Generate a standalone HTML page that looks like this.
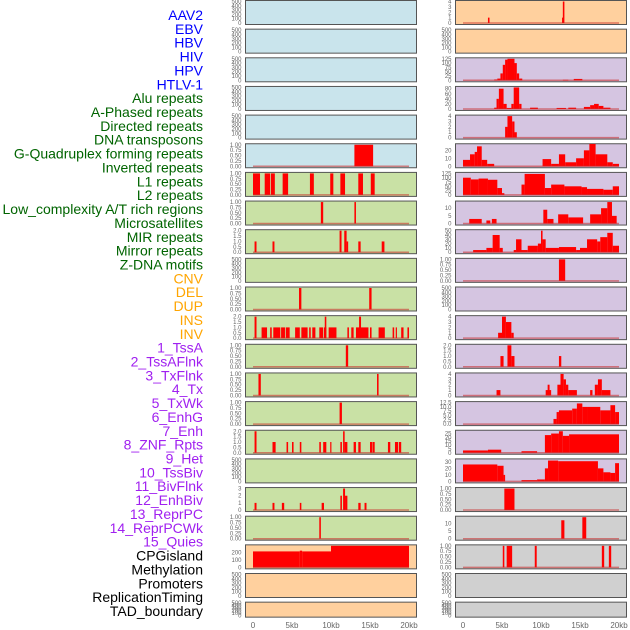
<!DOCTYPE html>
<html><head><meta charset="utf-8"><style>
html,body{margin:0;padding:0;background:#fff;width:630px;height:630px;overflow:hidden}
svg{display:block}
text{font-family:"Liberation Sans",sans-serif}
</style></head><body>
<svg id="fig" width="630" height="630" xmlns="http://www.w3.org/2000/svg"></svg>
<script>
const trackNames=["AAV2","EBV","HBV","HIV","HPV","HTLV-1","Alu repeats","A-Phased repeats","Directed repeats","DNA transposons","G-Quadruplex forming repeats","Inverted repeats","L1 repeats","L2 repeats","Low_complexity A/T rich regions","Microsatellites","MIR repeats","Mirror repeats","Z-DNA motifs","CNV","DEL","DUP","INS","INV","1_TssA","2_TssAFlnk","3_TxFlnk","4_Tx","5_TxWk","6_EnhG","7_Enh","8_ZNF_Rpts","9_Het","10_TssBiv","11_BivFlnk","12_EnhBiv","13_ReprPC","14_ReprPCWk","15_Quies","CPGisland","Methylation","Promoters","ReplicationTiming","TAD_boundary"];
const labelColors=["#0000ff","#006400","#ffa500","#a020f0","#000000"];
const labelGroupSizes=[6,13,5,15,5];
const xTicks=[0,5,10,15,20];
const xTickLabels=["0","5kb","10kb","15kb","20kb"];
const leftBg=["b","b","b","b","b","b","g","g","g","g","g","g","g","g","g","g","g","g","g","p","p","p"];
const rightBg=["p","p","v","v","v","v","v","v","v","v","v","v","v","v","v","v","v","r","r","r","r","r"];
const leftMax=[500,500,500,500,500,1,1,1,2,500,1,2,1,1,1,2,500,3,1,290,500,500];
const rightMax=[4,500,125,85,4,27,125,14,50,1,500,4,2,4,12.5,28,33,1,14,1,500,500];
const leftTicks=[[0,100,200,300,400,500],[0,100,200,300,400,500],[0,100,200,300,400,500],[0,100,200,300,400,500],[0,100,200,300,400,500],[0,.25,.5,.75,1],[0,.25,.5,.75,1],[0,.25,.5,.75,1],[0,.5,1,1.5,2],[0,100,200,300,400,500],[0,.25,.5,.75,1],[0,.5,1,1.5,2],[0,.25,.5,.75,1],[0,.25,.5,.75,1],[0,.25,.5,.75,1],[0,.5,1,1.5,2],[0,100,200,300,400,500],[0,1,2,3],[0,.25,.5,.75,1],[0,100,200],[0,100,200,300,400,500],[0,100,200,300,400,500]];
const rightTicks=[[0,1,2,3,4],[0,100,200,300,400,500],[0,25,50,75,100,125],[0,20,40,60,80],[0,1,2,3,4],[0,10,20],[0,25,50,75,100,125],[0,5,10],[0,10,20,30,40,50],[0,.25,.5,.75,1],[0,100,200,300,400,500],[0,1,2,3,4],[0,.5,1,1.5,2],[0,1,2,3,4],[0,2.5,5,7.5,10,12.5],[0,5,10,15,20,25],[0,10,20,30],[0,.25,.5,.75,1],[0,5,10],[0,.25,.5,.75,1],[0,100,200,300,400,500],[0,100,200,300,400,500]];
const leftBars=[[],[],[],[],[],
[[13,15.4,1]],
[[0,0.9,1],[1.5,2.2,1],[2.3,2.8,1],[3.8,4.5,1],[7.3,7.8,1],[9.9,10.3,1],[11.2,11.8,1],[13.5,14.1,1],[15.1,15.6,1]],
[[8.7,9.0,1],[13.0,13.2,1]],
[[0.2,0.45,1],[2.5,2.75,1],[11.1,11.35,2],[11.7,12.0,2],[12.0,12.2,1],[13.5,13.8,1],[16.5,16.85,1]],
[],
[[5.9,6.2,1],[14.9,15.2,1]],
[[0.2,0.45,2],[1.1,1.8,1],[2.2,2.4,1],[2.6,3.5,1],[3.6,4.1,1],[4.2,4.7,1],[5.4,6.0,1],[6.2,7.0,1],[7.2,7.4,1],[7.6,8.0,1],[8.5,9.0,1],[9.1,9.4,1],[9.2,9.4,2],[9.7,10.7,1],[12.1,12.3,1],[12.6,12.9,1],[13.2,14.8,1],[13.6,13.85,2],[15.0,15.2,1],[16.1,16.9,1],[17.9,18.1,1],[18.3,18.45,1],[19.0,19.3,1],[19.8,20.0,1]],
[[11.9,12.2,1]],
[[0.7,1.0,1],[15.9,16.1,1]],
[[11.1,11.4,1]],
[[0.2,0.45,2],[2.5,2.9,1],[4.3,4.5,1],[5.0,5.2,1],[6.0,6.2,1],[8.5,8.7,1],[9.0,9.4,1],[9.9,10.0,1],[11.2,11.4,1],[11.55,11.75,2],[11.75,12.1,1],[12.9,13.2,1],[13.5,13.8,1],[15.0,15.3,1],[15.35,15.6,1],[17.3,17.6,1],[18.2,18.6,1],[18.7,19.0,1]],
[],
[[0.2,0.45,1],[2.5,2.75,1],[3.7,4.0,1],[6.0,6.2,1],[8.8,9.1,1],[11.2,11.4,2],[11.55,11.8,3],[11.8,12.1,2],[13.5,13.8,1],[14.3,14.55,1]],
[[8.5,8.7,1]],
[[0,6.0,215],[6.0,6.3,225],[6.3,10.0,215],[10.0,20.0,290]],
[],[]];
const rightBars=[
[[3.2,3.4,1],[12.7,12.8,1],[12.8,13.0,4]],
[],
[[4.0,4.4,5],[4.4,4.8,10],[4.8,5.1,40],[5.1,5.4,90],[5.4,5.7,120],[5.7,6.6,125],[6.6,6.9,100],[6.9,7.2,40],[7.2,7.6,10],[12.8,13.5,3],[14.2,15.3,8]],
[[4.0,4.3,5],[4.3,4.6,40],[4.6,5.2,80],[5.2,5.6,20],[5.6,6.2,4],[6.2,6.5,20],[6.5,7.2,85],[7.2,7.5,20],[8.6,9.6,5],[12.0,13.2,4],[13.5,14.5,5],[15.5,16.3,8],[16.3,16.8,15],[16.8,17.4,20],[17.4,18.0,12],[18.0,18.9,5]],
[[5.4,5.7,2],[5.7,6.3,4],[6.3,6.6,3],[6.6,6.9,1]],
[[0,0.9,8],[0.9,1.5,15],[1.5,1.8,18],[1.8,2.4,25],[2.4,3.1,8],[3.1,4.0,3],[10.2,11.3,9],[11.3,12.3,3],[12.3,13.1,15],[13.1,14.5,5],[14.5,15.5,10],[15.5,16.2,20],[16.2,17.0,28],[17.0,18.5,15],[18.5,19.2,5],[19.2,20.0,3]],
[[0,1.0,100],[1.0,2.0,90],[2.0,3.2,95],[3.2,4.4,88],[4.4,5.0,40],[5.0,5.3,10],[7.5,7.9,60],[7.9,10.5,122],[10.5,11.3,40],[11.3,13.0,60],[13.0,15.2,50],[15.2,15.9,45],[15.9,18.0,35],[18.0,19.2,30],[19.2,20.0,50]],
[[0.8,2.4,3],[3.0,3.5,2],[3.7,4.3,3],[10.3,10.8,9],[10.8,11.6,3],[12.2,13.5,6],[13.5,15.4,4],[16.3,17.7,6],[17.7,18.5,10],[18.5,19.1,14],[19.1,19.7,5]],
[[1.3,3.0,5],[3.0,3.8,10],[3.8,4.7,40],[4.7,5.1,10],[6.5,6.8,5],[6.8,7.5,30],[7.5,8.3,5],[8.3,9.6,15],[9.6,10.0,20],[10.0,10.2,50],[10.2,10.6,30],[10.6,12.3,10],[12.3,14.5,12],[14.5,15.0,5],[15.0,15.9,10],[15.9,17.2,30],[17.2,17.6,25],[17.6,18.5,35],[18.5,19.2,45],[19.2,20.0,15]],
[[12.3,13.1,1]],
[],
[[4.5,5.0,1],[5.0,5.5,4],[5.5,6.2,3],[6.2,6.5,1]],
[[4.8,5.2,1],[5.7,6.2,2],[6.2,6.6,1],[12.3,12.6,1]],
[[4.3,4.8,1],[10.6,11.3,1],[10.85,11.1,2],[12.1,12.5,2],[12.5,12.9,4],[12.9,13.2,3],[13.2,13.5,2],[13.5,14.6,1],[16.3,16.6,1],[16.9,17.3,2],[17.3,17.8,3],[17.8,18.9,1]],
[[11.6,12.0,3],[12.0,12.3,7],[12.3,14.0,8],[14.0,14.6,9],[14.6,15.3,12],[15.3,15.9,10],[15.9,17.6,10],[17.6,18.9,8],[18.9,19.5,11],[19.5,20.0,7]],
[[0,3.2,3],[3.2,4.9,4],[7.5,9.5,2],[10.5,11.3,23],[11.3,12.3,25],[12.3,12.8,28],[12.8,13.6,22],[13.6,20.0,24]],
[[0,4.4,26],[4.4,5.2,24],[5.2,5.4,10],[7.5,9.5,2],[9.5,10.5,3],[10.5,10.9,20],[10.9,12.2,32],[12.2,17.3,31],[17.3,18.0,20],[18.0,18.9,14],[18.9,19.5,13],[19.5,20.0,28]],
[[5.3,6.6,1]],
[[12.6,13.0,12],[15.3,15.8,14]],
[[5.1,5.3,1],[5.6,6.3,1],[9.2,9.45,1],[17.8,18.1,1],[18.7,19.0,1]],
[],[]];

const NS="http://www.w3.org/2000/svg";
const svg=document.getElementById('fig');
const bgColors={b:"#c9e4ec",g:"#c9e1a5",p:"#ffd09e",v:"#d5c5e1",r:"#d0d0d0"};
const rowTop=i=>i*28.65;
const rowH=i=>i===21?16:25;
const colLeft=[245.5,455.5], colZero=[253,463], pxPerKb=7.8, panelW=171;
function xScale(c,kb){return colZero[c]+kb*pxPerKb;}
function yScale(i,v,max){const t=rowTop(i),h=rowH(i);const y0=t+h-2,y1=t+1.5;return y0-(v/max)*(y0-y1);}
function el(tag,attrs){const e=document.createElementNS(NS,tag);for(const k in attrs)e.setAttribute(k,attrs[k]);svg.appendChild(e);return e;}
function fmt(v,ticks){const f=ticks.some(t=>t%1!==0);if(!f)return String(v);const two=ticks.some(t=>(t*100)%50!==0&&(t*10)%1!==0);return two?v.toFixed(2):v.toFixed(1);}

// labels
let li=0;
labelGroupSizes.forEach((n,g)=>{for(let k=0;k<n;k++){const t=el('text',{x:203,y:15+li*13.86+5,'text-anchor':'end','font-size':'14',fill:labelColors[g]});


t.textContent=trackNames[li];li++;}});

function drawCol(c,bgs,maxes,ticks,bars){
 for(let i=0;i<22;i++){
  const t=rowTop(i),h=rowH(i);
  const r=el('rect',{x:colLeft[c],y:t+0.5,width:panelW,height:h-1,fill:bgColors[bgs[i]],stroke:'#555',"stroke-width":1});
  
  
  ticks[i].forEach(v=>{
   const tx=el('text',{x:colLeft[c]-4,y:yScale(i,v,maxes[i])+2,'text-anchor':'end','font-size':'6',fill:'#666'});
   
   
   tx.textContent=fmt(v,ticks[i]);
  });
  bars[i].forEach(b=>{
   const x0=xScale(c,b[0]),x1=xScale(c,b[1]);const y=yScale(i,b[2],maxes[i]),yb=yScale(i,0,maxes[i]);
   const br=el('rect',{x:x0,y:y,width:Math.max(1.2,x1-x0),height:yb-y,fill:'#ff0000'});
   
   
  });
  if(bars[i].length||bgs[i]!=='x'){
   if(maxes[i]!==500||bars[i].length){
    const ln=el('line',{x1:xScale(c,0),x2:xScale(c,20),y1:yScale(i,0,maxes[i]),y2:yScale(i,0,maxes[i]),stroke:'rgba(200,40,40,0.55)','stroke-width':1.5});
    
    
   }
  }
 }
 xTicks.forEach((v,k)=>{
  const tx=el('text',{x:xScale(c,v),y:628,'text-anchor':'middle','font-size':'8',fill:'#666'});
  
  
  tx.textContent=xTickLabels[k];
 });
}
drawCol(0,leftBg,leftMax,leftTicks,leftBars);
drawCol(1,rightBg,rightMax,rightTicks,rightBars);
</script>
</body></html>
